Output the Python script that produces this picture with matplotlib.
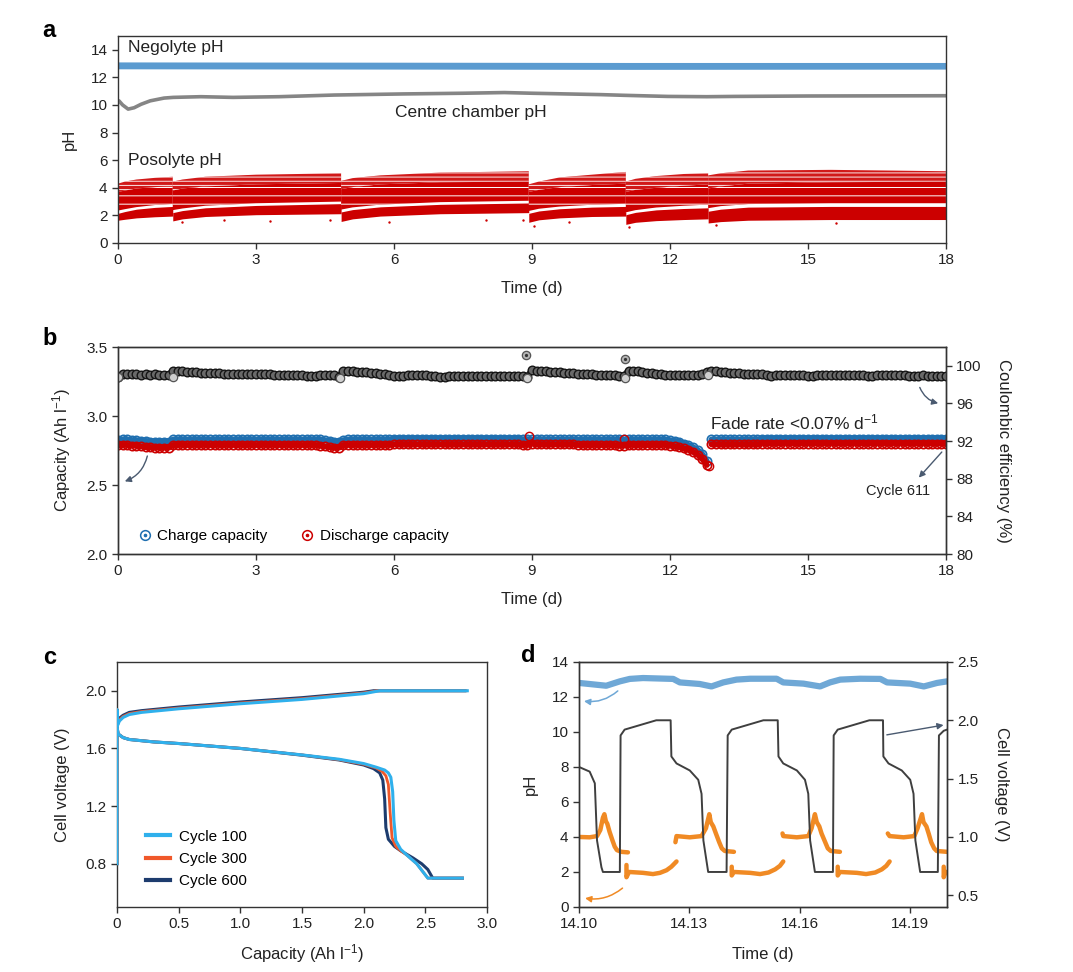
import numpy as np
import matplotlib
matplotlib.use('Agg')
import matplotlib.pyplot as plt
from matplotlib.lines import Line2D

plt.rcParams['font.family'] = ['Liberation Sans', 'DejaVu Sans']
plt.rcParams['mathtext.fontset'] = 'custom'
plt.rcParams['mathtext.rm'] = 'Liberation Sans'
plt.rcParams['mathtext.it'] = 'Liberation Sans:italic'
plt.rcParams['mathtext.bf'] = 'Liberation Sans:bold'
plt.rcParams['hatch.linewidth'] = 0.7

# ---------------- panel a: pH over 18 days ----------------
neg_t = [0.0, 6.0, 11.1, 18.0]
neg_lo = [12.62, 12.6, 12.58, 12.6]
neg_hi = [13.12, 13.1, 13.08, 13.08]

centre_t = [0.0, 0.02, 0.1, 0.22, 0.35, 0.5, 0.7, 1.0, 1.2, 1.8, 2.5, 3.5, 4.7,
            6.2, 7.5, 8.4, 9.0, 10.5, 11.0, 11.95, 12.8, 13.4, 15.0, 18.0]
centre_ph = [10.25, 10.3, 10.0, 9.7, 9.8, 10.05, 10.3, 10.5, 10.55, 10.6, 10.55, 10.6, 10.72,
             10.8, 10.85, 10.9, 10.85, 10.75, 10.7, 10.62, 10.6, 10.62, 10.65, 10.67]
centre_spike = [6.8, 10.2]

# posolyte envelope per segment (lower dense band, upper striped band, sparse top)
pos_t = [[0.0, 0.15, 0.4, 0.8, 1.19],
         [1.19, 1.4, 1.9, 3.0, 4.85],
         [4.85, 5.1, 5.7, 7.0, 8.93],
         [8.93, 9.15, 9.6, 10.3, 11.04],
         [11.04, 11.25, 11.7, 12.3, 12.83],
         [12.83, 13.1, 13.7, 15.5, 18.0]]
pos_lo1 = [[1.65, 1.72, 1.82, 1.9, 1.95],
           [1.6, 1.75, 1.92, 2.05, 2.12],
           [1.56, 1.75, 1.95, 2.12, 2.2],
           [1.5, 1.68, 1.82, 1.92, 1.95],
           [1.35, 1.5, 1.62, 1.7, 1.75],
           [1.45, 1.55, 1.65, 1.7, 1.7]]
pos_hi1 = [[2.15, 2.28, 2.45, 2.58, 2.65],
           [2.2, 2.35, 2.55, 2.72, 2.85],
           [2.25, 2.42, 2.62, 2.8, 2.9],
           [2.15, 2.32, 2.48, 2.6, 2.65],
           [2.05, 2.22, 2.4, 2.5, 2.55],
           [2.3, 2.45, 2.6, 2.65, 2.65]]
pos_lo2 = [[2.35, 2.45, 2.6, 2.75, 2.83],
           [2.38, 2.5, 2.7, 2.88, 3.0],
           [2.42, 2.58, 2.78, 2.96, 3.06],
           [2.32, 2.48, 2.64, 2.77, 2.84],
           [2.22, 2.38, 2.57, 2.7, 2.78],
           [2.52, 2.67, 2.82, 2.88, 2.88]]
pos_mid2 = [[3.7, 3.8, 3.95, 4.05, 4.1],
            [3.8, 3.95, 4.1, 4.25, 4.35],
            [3.9, 4.05, 4.25, 4.4, 4.45],
            [3.7, 3.85, 4.05, 4.2, 4.3],
            [3.7, 3.85, 4.0, 4.15, 4.25],
            [3.95, 4.1, 4.3, 4.4, 4.45]]
pos_hi2 = [[4.3, 4.45, 4.6, 4.72, 4.8],
           [4.45, 4.6, 4.8, 4.95, 5.05],
           [4.5, 4.7, 4.9, 5.1, 5.2],
           [4.25, 4.45, 4.75, 4.95, 5.15],
           [4.45, 4.65, 4.85, 5.0, 5.05],
           [4.9, 5.05, 5.25, 5.3, 5.2]]
pos_out_t = [1.4, 2.3, 3.3, 4.6, 5.9, 8.0, 8.8, 9.05, 9.8, 11.1, 13.0, 15.6]
pos_out_ph = [1.55, 1.7, 1.6, 1.65, 1.5, 1.7, 1.65, 1.2, 1.5, 1.15, 1.3, 1.45]

# ---------------- panel b: capacity and CE ----------------
t_b = np.round(np.arange(0, 18.05, 0.1), 1)
ce = [98.8, 99.1, 99.15, 99.1, 99.1, 99.05, 99.1, 99.0, 99.1, 99.0,
      99.05, 99.0, 99.5, 99.45, 99.4, 99.35, 99.3, 99.3, 99.25, 99.25,
      99.2, 99.2, 99.2, 99.15, 99.15, 99.15, 99.1, 99.1, 99.1, 99.1,
      99.1, 99.1, 99.1, 99.1, 99.05, 99.05, 99.05, 99.05, 99.05, 99.0,
      99.0, 98.95, 98.9, 98.95, 99.0, 99.0, 99.0, 99.0, 98.85, 99.5,
      99.45, 99.4, 99.35, 99.3, 99.3, 99.25, 99.2, 99.15, 99.1, 99.05,
      98.95, 98.9, 98.95, 99.0, 99.0, 99.0, 99.0, 99.0, 98.95, 98.9,
      98.85, 98.85, 98.9, 98.9, 98.9, 98.95, 98.95, 98.95, 98.95, 98.95,
      98.95, 98.95, 98.95, 98.95, 98.95, 98.95, 98.95, 98.9, 98.9, 98.85,
      99.55, 99.5, 99.45, 99.4, 99.35, 99.3, 99.3, 99.25, 99.2, 99.2,
      99.15, 99.15, 99.1, 99.1, 99.05, 99.05, 99.0, 99.0, 99.0, 98.95,
      98.9, 99.5, 99.45, 99.4, 99.3, 99.25, 99.2, 99.15, 99.1, 99.05,
      99.0, 99.0, 99.0, 99.0, 99.05, 99.05, 99.05, 99.1, 99.35, 99.5,
      99.4, 99.35, 99.3, 99.25, 99.2, 99.2, 99.15, 99.15, 99.1, 99.1,
      99.1, 99.05, 98.95, 99.0, 99.05, 99.05, 99.0, 99.0, 99.0, 99.0,
      98.95, 98.9, 99.0, 99.0, 99.05, 99.05, 99.0, 99.0, 99.0, 99.05,
      99.05, 99.0, 99.0, 98.95, 98.95, 99.0, 99.0, 99.0, 99.0, 99.0,
      99.0, 99.0, 98.95, 98.95, 98.95, 99.0, 98.95, 98.95, 98.95, 98.9,
      98.9]
charge = [2.825, 2.83, 2.83, 2.825, 2.825, 2.82, 2.82, 2.815, 2.815, 2.815,
          2.815, 2.815, 2.83, 2.83, 2.83, 2.83, 2.83, 2.83, 2.83, 2.83,
          2.83, 2.83, 2.83, 2.83, 2.83, 2.83, 2.83, 2.83, 2.83, 2.83,
          2.83, 2.83, 2.83, 2.83, 2.83, 2.83, 2.83, 2.83, 2.83, 2.83,
          2.83, 2.83, 2.83, 2.83, 2.83, 2.825, 2.82, 2.815, 2.815, 2.825,
          2.83, 2.83, 2.83, 2.83, 2.83, 2.83, 2.83, 2.83, 2.83, 2.83,
          2.835, 2.835, 2.835, 2.835, 2.835, 2.835, 2.835, 2.835, 2.835, 2.835,
          2.835, 2.835, 2.835, 2.835, 2.835, 2.835, 2.835, 2.835, 2.835, 2.835,
          2.835, 2.835, 2.835, 2.835, 2.835, 2.835, 2.835, 2.835, 2.83, 2.83,
          2.83, 2.83, 2.83, 2.83, 2.83, 2.83, 2.83, 2.83, 2.83, 2.83,
          2.83, 2.83, 2.83, 2.83, 2.83, 2.83, 2.83, 2.83, 2.83, 2.83,
          2.83, 2.83, 2.83, 2.83, 2.83, 2.83, 2.83, 2.83, 2.83, 2.83,
          2.825, 2.82, 2.815, 2.80, 2.79, 2.775, 2.755, 2.725, 2.675, 2.83,
          2.83, 2.83, 2.83, 2.83, 2.83, 2.83, 2.83, 2.83, 2.83, 2.83,
          2.835, 2.835, 2.835, 2.835, 2.835, 2.835, 2.835, 2.835, 2.835, 2.835,
          2.835, 2.835, 2.835, 2.835, 2.835, 2.835, 2.835, 2.835, 2.835, 2.835,
          2.835, 2.835, 2.835, 2.835, 2.835, 2.835, 2.835, 2.835, 2.835, 2.835,
          2.835, 2.835, 2.835, 2.835, 2.835, 2.835, 2.835, 2.835, 2.835, 2.835,
          2.835]
discharge = [2.79, 2.79, 2.79, 2.785, 2.785, 2.78, 2.775, 2.775, 2.77, 2.77,
             2.77, 2.77, 2.79, 2.79, 2.79, 2.79, 2.79, 2.79, 2.79, 2.79,
             2.79, 2.79, 2.79, 2.79, 2.79, 2.79, 2.79, 2.79, 2.79, 2.79,
             2.79, 2.79, 2.79, 2.79, 2.79, 2.79, 2.79, 2.79, 2.79, 2.79,
             2.79, 2.79, 2.79, 2.79, 2.785, 2.78, 2.775, 2.77, 2.77, 2.79,
             2.79, 2.79, 2.79, 2.79, 2.79, 2.79, 2.79, 2.79, 2.79, 2.79,
             2.795, 2.795, 2.795, 2.795, 2.795, 2.795, 2.795, 2.795, 2.795, 2.795,
             2.795, 2.795, 2.795, 2.795, 2.795, 2.795, 2.795, 2.795, 2.795, 2.795,
             2.795, 2.795, 2.795, 2.795, 2.795, 2.795, 2.795, 2.795, 2.79, 2.79,
             2.80, 2.795, 2.795, 2.795, 2.795, 2.795, 2.795, 2.795, 2.795, 2.795,
             2.79, 2.79, 2.79, 2.79, 2.79, 2.79, 2.79, 2.79, 2.79, 2.785,
             2.785, 2.79, 2.79, 2.79, 2.79, 2.79, 2.79, 2.79, 2.79, 2.79,
             2.785, 2.78, 2.775, 2.765, 2.755, 2.74, 2.72, 2.69, 2.645, 2.795,
             2.795, 2.795, 2.795, 2.795, 2.795, 2.795, 2.795, 2.795, 2.795, 2.795,
             2.80, 2.80, 2.80, 2.80, 2.80, 2.80, 2.80, 2.80, 2.80, 2.80,
             2.80, 2.80, 2.80, 2.80, 2.80, 2.80, 2.80, 2.80, 2.80, 2.80,
             2.80, 2.80, 2.80, 2.80, 2.80, 2.80, 2.80, 2.80, 2.80, 2.80,
             2.80, 2.80, 2.80, 2.80, 2.80, 2.80, 2.80, 2.80, 2.80, 2.80,
             2.80]
ce_out_t = [8.88, 11.02]
ce_out = [101.2, 100.7]
ce_low_t = [0.0, 1.19, 4.83, 8.9, 11.02, 12.82]
ce_low = [98.8, 98.8, 98.7, 98.7, 98.7, 99.0]
cap_out_t = [8.93, 11.0, 12.84]
cap_out = [2.855, 2.832, 2.64]

# ---------------- panel c: voltage profiles ----------------
c100_chg_x = [0, 0, 0.005, 0.02, 0.05, 0.1, 0.2, 0.5, 1.0, 1.5, 2.0, 2.13, 2.2, 2.84]
c100_chg_v = [0.80, 1.87, 1.76, 1.79, 1.815, 1.835, 1.85, 1.875, 1.91, 1.94, 1.98, 2.0, 2.0, 2.0]
c300_chg_x = [0, 0, 0.005, 0.02, 0.05, 0.1, 0.2, 0.5, 1.0, 1.5, 2.0, 2.11, 2.2, 2.83]
c300_chg_v = [0.80, 1.87, 1.765, 1.80, 1.822, 1.842, 1.856, 1.88, 1.915, 1.945, 1.985, 2.0, 2.0, 2.0]
c600_chg_x = [0, 0, 0.005, 0.02, 0.05, 0.1, 0.2, 0.5, 1.0, 1.5, 2.0, 2.08, 2.2, 2.82]
c600_chg_v = [0.80, 1.87, 1.77, 1.81, 1.83, 1.85, 1.862, 1.887, 1.922, 1.952, 1.99, 2.0, 2.0, 2.0]

c100_dis_x = [0, 0.01, 0.05, 0.1, 0.3, 0.5, 1.0, 1.5, 1.8, 2.0, 2.1, 2.17, 2.2, 2.22,
              2.235, 2.245, 2.26, 2.3, 2.35, 2.43, 2.52, 2.80]
c100_dis_v = [1.75, 1.70, 1.675, 1.662, 1.645, 1.634, 1.60, 1.555, 1.525, 1.495, 1.47, 1.45, 1.43, 1.40,
              1.30, 1.10, 0.96, 0.90, 0.86, 0.80, 0.70, 0.70]
c300_dis_x = [0, 0.01, 0.05, 0.1, 0.3, 0.5, 1.0, 1.5, 1.8, 2.0, 2.1, 2.15, 2.18, 2.2,
              2.215, 2.23, 2.26, 2.3, 2.35, 2.43, 2.52, 2.80]
c300_dis_v = [1.75, 1.70, 1.675, 1.662, 1.645, 1.634, 1.60, 1.555, 1.522, 1.49, 1.465, 1.44, 1.41, 1.35,
              1.15, 0.98, 0.92, 0.89, 0.86, 0.80, 0.70, 0.70]
c600_dis_x = [0, 0.01, 0.05, 0.1, 0.3, 0.5, 1.0, 1.5, 1.8, 2.0, 2.08, 2.13, 2.155, 2.17,
              2.18, 2.2, 2.25, 2.3, 2.4, 2.47, 2.52, 2.56, 2.80]
c600_dis_v = [1.75, 1.70, 1.675, 1.662, 1.645, 1.634, 1.60, 1.553, 1.52, 1.485, 1.46, 1.43, 1.38, 1.25,
              1.05, 0.97, 0.92, 0.89, 0.84, 0.80, 0.76, 0.70, 0.70]

# ---------------- panel d: zoom on a few cycles ----------------
d_volt_t = [14.1000, 14.1029, 14.1043, 14.1049, 14.1061, 14.1065, 14.1111, 14.1113, 14.1124,
            14.1210, 14.1249, 14.1251, 14.1265, 14.1301, 14.1324, 14.1333, 14.1338, 14.1351,
            14.1401, 14.1404, 14.1415, 14.1501, 14.1540, 14.1542, 14.1555, 14.1592, 14.1614,
            14.1623, 14.1628, 14.1641, 14.1690, 14.1692, 14.1703, 14.1789, 14.1826, 14.1827,
            14.1841, 14.1877, 14.1900, 14.1909, 14.1914, 14.1927, 14.1975, 14.1978, 14.1991,
            14.2000]
d_volt_v = [1.60, 1.56, 1.46, 0.97, 0.74, 0.70, 0.70, 1.87, 1.92,
            2.00, 2.00, 1.69, 1.63, 1.57, 1.49, 1.37, 0.97, 0.70,
            0.70, 1.87, 1.92, 2.00, 2.00, 1.69, 1.63, 1.57, 1.49,
            1.37, 0.97, 0.70, 0.70, 1.87, 1.92, 2.00, 2.00, 1.69,
            1.63, 1.57, 1.49, 1.37, 0.97, 0.70, 0.70, 1.87, 1.91,
            1.92]

d_neg_t = [14.1000, 14.1074, 14.1111, 14.1138, 14.1174, 14.1256, 14.1274, 14.1328, 14.1360,
           14.1392, 14.1428, 14.1465, 14.1537, 14.1555, 14.1610, 14.1655, 14.1682, 14.1710,
           14.1764, 14.1819, 14.1837, 14.1900, 14.1937, 14.1973, 14.2000]
d_neg_ph = [12.80, 12.64, 12.89, 13.03, 13.08, 13.03, 12.83, 12.74, 12.60,
            12.83, 12.99, 13.04, 13.04, 12.83, 12.76, 12.60, 12.83, 12.99,
            13.04, 13.03, 12.83, 12.76, 12.60, 12.80, 12.89]

d_pos_t = [[14.1000, 14.1029, 14.1049, 14.1058, 14.1065, 14.1069, 14.1073, 14.1077, 14.1083,
            14.1091, 14.1097, 14.1103, 14.1115, 14.1133],
           [14.1129, 14.1129, 14.1136, 14.1174, 14.1201, 14.1220, 14.1238, 14.1251, 14.1265],
           [14.1262, 14.1265, 14.1301, 14.1333, 14.1345, 14.1354, 14.1358, 14.1365, 14.1372,
            14.1381, 14.1388, 14.1396, 14.1421],
           [14.1415, 14.1415, 14.1421, 14.1465, 14.1492, 14.1515, 14.1533, 14.1546, 14.1555],
           [14.1553, 14.1555, 14.1592, 14.1623, 14.1632, 14.1641, 14.1646, 14.1653, 14.1659,
            14.1669, 14.1676, 14.1684, 14.1709],
           [14.1703, 14.1703, 14.1709, 14.1755, 14.1780, 14.1805, 14.1823, 14.1835, 14.1844],
           [14.1839, 14.1844, 14.1882, 14.1911, 14.1920, 14.1932, 14.1936, 14.1944, 14.1950,
            14.1957, 14.1965, 14.1972, 14.2000],
           [14.1991, 14.1991, 14.1996, 14.2000]]
d_pos_ph = [[4.0, 3.98, 4.05, 4.4, 5.1, 5.3, 4.9, 4.75, 4.3, 3.8, 3.45, 3.25, 3.15, 3.12],
            [2.4, 1.7, 2.0, 1.95, 1.88, 1.95, 2.1, 2.3, 2.6],
            [3.7, 4.05, 3.98, 4.05, 4.5, 5.3, 4.85, 4.6, 4.2, 3.7, 3.35, 3.2, 3.15],
            [2.3, 1.8, 2.0, 1.95, 1.88, 1.97, 2.15, 2.35, 2.6],
            [4.2, 4.05, 3.98, 4.05, 4.5, 5.3, 4.85, 4.6, 4.2, 3.7, 3.35, 3.2, 3.15],
            [2.3, 1.8, 2.0, 1.95, 1.88, 1.97, 2.15, 2.35, 2.6],
            [4.2, 4.05, 3.98, 4.05, 4.5, 5.3, 4.85, 4.6, 4.2, 3.7, 3.35, 3.2, 3.15],
            [2.3, 1.7, 2.0, 2.0]]

RED = '#cc0000'
BLUE_B = '#1f6fb0'
GREY_ARROW = '#4a5a70'
TXT = '#222222'


def style(ax):
    for s in ax.spines.values():
        s.set_color('#333333')
        s.set_linewidth(1.0)
    ax.tick_params(direction='out', length=4, width=1, colors='#333333',
                   labelcolor=TXT, labelsize=11)


fig = plt.figure(figsize=(10.73, 9.72), dpi=100)

# ---- a ----
ax_a = fig.add_axes([0.110, 0.750, 0.7716, 0.213])
ax_a.fill_between(neg_t, neg_lo, neg_hi, color='#5b9bd0', lw=0)
ax_a.plot(centre_t, centre_ph, color='#858585', lw=2.6, solid_capstyle='round')
ax_a.plot([0, 0], centre_spike, color='#9a9a9a', lw=1)
for i in range(len(pos_t)):
    ax_a.fill_between(pos_t[i], pos_lo1[i], pos_hi1[i], color=RED, lw=0)
    ax_a.fill_between(pos_t[i], pos_lo2[i], pos_mid2[i], facecolor=RED,
                      edgecolor='white', hatch='--', lw=0)
    ax_a.fill_between(pos_t[i], pos_mid2[i], pos_hi2[i], facecolor=RED,
                      edgecolor='white', hatch='----', lw=0, alpha=0.9)
ax_a.scatter(pos_out_t, pos_out_ph, s=3, color=RED, lw=0)
ax_a.text(0.22, 14.15, 'Negolyte pH', fontsize=12.5, va='center', color=TXT)
ax_a.text(6.02, 9.42, 'Centre chamber pH', fontsize=12.5, va='center', color=TXT)
ax_a.text(0.22, 6.0, 'Posolyte pH', fontsize=12.5, va='center', color=TXT)
ax_a.set_xlim(0, 18)
ax_a.set_ylim(0, 15)
ax_a.set_xticks(range(0, 19, 3))
ax_a.set_yticks(range(0, 15, 2))
ax_a.set_xlabel('Time (d)', fontsize=12, color=TXT, labelpad=10)
ax_a.set_ylabel('pH', fontsize=12, color=TXT, labelpad=10)
style(ax_a)

# ---- b ----
ax_b = fig.add_axes([0.110, 0.430, 0.7716, 0.213])
ax_b2 = ax_b.twinx()
cut = 129  # index of first point after the 12.85 d restart
ax_b.plot(t_b[:cut], charge[:cut], color=BLUE_B, lw=4.2, solid_capstyle='round')
ax_b.plot(t_b[cut:], charge[cut:], color=BLUE_B, lw=4.2, solid_capstyle='round')
ax_b.plot(t_b, charge, ls='none', marker='o', ms=6, mfc='none', mec=BLUE_B, mew=1.2)
ax_b.plot(t_b[:cut], discharge[:cut], color=RED, lw=4.2, solid_capstyle='round')
ax_b.plot(t_b[cut:], discharge[cut:], color=RED, lw=4.2, solid_capstyle='round')
ax_b.plot(t_b, discharge, ls='none', marker='o', ms=6, mfc='none', mec=RED, mew=1.2)
ax_b.plot(cap_out_t, cap_out, ls='none', marker='o', ms=6, mfc='none', mec=RED, mew=1.0)
ax_b2.plot(t_b, ce, color='#262626', lw=4.5, solid_capstyle='round')
ax_b2.plot(t_b, ce, ls='none', marker='o', ms=6.2, mfc='#6a6a6a', mec='#151515', mew=1.0)
ax_b2.plot(ce_low_t, ce_low, ls='none', marker='o', ms=6, mfc='#cfcfcf', mec='#555555', mew=0.9)
ax_b2.plot(ce_out_t, ce_out, ls='none', marker='o', ms=6, mfc='#b5b5b5', mec='#555555', mew=0.9)
ax_b2.plot(ce_out_t, ce_out, ls='none', marker='o', ms=1.3, color='#333333')

leg_handles = [(Line2D([], [], ls='none', marker='o', ms=7, mfc='none', mec=BLUE_B, mew=1.1),
                Line2D([], [], ls='none', marker='o', ms=1.6, color=BLUE_B)),
               (Line2D([], [], ls='none', marker='o', ms=7, mfc='none', mec=RED, mew=1.1),
                Line2D([], [], ls='none', marker='o', ms=1.6, color=RED))]
ax_b.legend(leg_handles, ['Charge capacity', 'Discharge capacity'], ncol=2,
            loc='lower left', bbox_to_anchor=(0.005, -0.015), frameon=False,
            fontsize=11, handletextpad=0.2, columnspacing=2.0, handlelength=1.2)

ax_b.text(12.87, 2.957, 'Fade rate <0.07% d$^{-1}$', fontsize=12.5, va='center', color=TXT)
ax_b.text(16.95, 2.457, 'Cycle 611', fontsize=10.5, ha='center', va='center', color=TXT)
ax_b.annotate('', xy=(0.09, 2.52), xytext=(0.65, 2.73),
              arrowprops=dict(arrowstyle='-|>', color=GREY_ARROW, lw=1,
                              mutation_scale=9, connectionstyle='arc3,rad=-0.3'))
ax_b2.annotate('', xy=(17.89, 95.96), xytext=(17.41, 97.98),
               arrowprops=dict(arrowstyle='-|>', color=GREY_ARROW, lw=1,
                               mutation_scale=9, connectionstyle='arc3,rad=0.3'))
ax_b2.annotate('', xy=(17.37, 87.9), xytext=(17.95, 91.06),
               arrowprops=dict(arrowstyle='-|>', color=GREY_ARROW, lw=1, mutation_scale=9))

ax_b.set_xlim(0, 18)
ax_b.set_ylim(2.0, 3.5)
ax_b2.set_ylim(80, 102)
ax_b.set_xticks(range(0, 19, 3))
ax_b.set_yticks([2.0, 2.5, 3.0, 3.5])
ax_b.set_yticklabels(['2.0', '2.5', '3.0', '3.5'])
ax_b2.set_yticks(range(80, 101, 4))
ax_b.set_xlabel('Time (d)', fontsize=12, color=TXT, labelpad=10)
ax_b.set_ylabel('Capacity (Ah l$^{-1}$)', fontsize=12, color=TXT, labelpad=10)
ax_b2.set_ylabel('Coulombic efficiency (%)', fontsize=12, color=TXT, rotation=270, labelpad=21)
style(ax_b)
style(ax_b2)

# ---- c ----
ax_c = fig.add_axes([0.109, 0.0669, 0.3449, 0.2521])
C100, C300, C600 = '#2fb0ec', '#f0582a', '#1d3c6e'
ax_c.plot(c600_chg_x, c600_chg_v, color=C600, lw=2.2, zorder=2)
ax_c.plot(c600_dis_x, c600_dis_v, color=C600, lw=2.2, zorder=2)
ax_c.plot(c300_chg_x, c300_chg_v, color=C300, lw=2.0, zorder=3)
ax_c.plot(c300_dis_x, c300_dis_v, color=C300, lw=2.0, zorder=3)
ax_c.plot(c100_chg_x, c100_chg_v, color=C100, lw=2.2, zorder=4)
ax_c.plot(c100_dis_x, c100_dis_v, color=C100, lw=2.2, zorder=4)
c_handles = [Line2D([], [], color=C100, lw=3), Line2D([], [], color=C300, lw=3),
             Line2D([], [], color=C600, lw=3)]
ax_c.legend(c_handles, ['Cycle 100', 'Cycle 300', 'Cycle 600'], loc='lower left',
            bbox_to_anchor=(0.04, 0.02), frameon=False, fontsize=11,
            handlelength=1.6, handletextpad=0.6, labelspacing=0.55)
ax_c.set_xlim(0, 3.0)
ax_c.set_ylim(0.5, 2.2)
ax_c.set_xticks([0, 0.5, 1.0, 1.5, 2.0, 2.5, 3.0])
ax_c.set_xticklabels(['0', '0.5', '1.0', '1.5', '2.0', '2.5', '3.0'])
ax_c.set_yticks([0.8, 1.2, 1.6, 2.0])
ax_c.set_yticklabels(['0.8', '1.2', '1.6', '2.0'])
ax_c.set_xlabel('Capacity (Ah l$^{-1}$)', fontsize=12, color=TXT, labelpad=8)
ax_c.set_ylabel('Cell voltage (V)', fontsize=12, color=TXT, labelpad=11)
style(ax_c)

# ---- d ----
ax_d = fig.add_axes([0.5396, 0.0669, 0.343, 0.2521])
ax_d2 = ax_d.twinx()
ax_d.plot(d_neg_t, d_neg_ph, color='#6fa8d6', lw=4.5, solid_capstyle='round')
for i in range(len(d_pos_t)):
    ax_d.plot(d_pos_t[i], d_pos_ph[i], color='#f08a24', lw=3.2, solid_capstyle='round')
ax_d2.plot(d_volt_t, d_volt_v, color='#3f3f3f', lw=1.4)
ax_d.annotate('', xy=(14.1006, 11.78), xytext=(14.1111, 12.45),
              arrowprops=dict(arrowstyle='-|>', color='#6fa8d6', lw=1.1,
                              mutation_scale=9, connectionstyle='arc3,rad=-0.25'))
ax_d.annotate('', xy=(14.1009, 0.53), xytext=(14.1124, 1.18),
              arrowprops=dict(arrowstyle='-|>', color='#f08a24', lw=1.1,
                              mutation_scale=9, connectionstyle='arc3,rad=-0.25'))
ax_d2.annotate('', xy=(14.1998, 1.963), xytext=(14.1829, 1.871),
               arrowprops=dict(arrowstyle='-|>', color=GREY_ARROW, lw=1, mutation_scale=9))
ax_d.set_xlim(14.10, 14.20)
ax_d.set_ylim(0, 14)
ax_d2.set_ylim(0.4, 2.5)
ax_d.set_xticks([14.10, 14.13, 14.16, 14.19])
ax_d.set_xticklabels(['14.10', '14.13', '14.16', '14.19'])
ax_d.set_yticks(range(0, 15, 2))
ax_d2.set_yticks([0.5, 1.0, 1.5, 2.0, 2.5])
ax_d2.set_yticklabels(['0.5', '1.0', '1.5', '2.0', '2.5'])
ax_d.set_xlabel('Time (d)', fontsize=12, color=TXT, labelpad=11)
ax_d.set_ylabel('pH', fontsize=12, color=TXT, labelpad=10)
ax_d2.set_ylabel('Cell voltage (V)', fontsize=12, color=TXT, rotation=270, labelpad=22)
style(ax_d)
style(ax_d2)

for lab, x, y in [('a', 0.046, 0.969), ('b', 0.046, 0.652), ('c', 0.046, 0.324), ('d', 0.492, 0.326)]:
    fig.text(x, y, lab, fontsize=17, fontweight='bold', ha='center', va='center')

fig.savefig('out.png', dpi=100)
